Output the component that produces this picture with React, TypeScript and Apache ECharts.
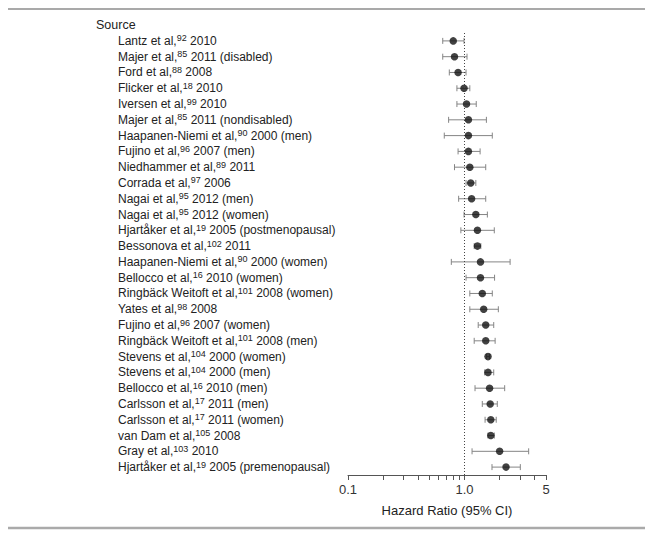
import React, { useEffect, useRef } from "react";
import * as echarts from "echarts";

const authors = [
  "Lantz et al,", "Majer et al,", "Ford et al,", "Flicker et al,", "Iversen et al,",
  "Majer et al,", "Haapanen-Niemi et al,", "Fujino et al,", "Niedhammer et al,", "Corrada et al,",
  "Nagai et al,", "Nagai et al,", "Hjartåker et al,", "Bessonova et al,", "Haapanen-Niemi et al,",
  "Bellocco et al,", "Ringbäck Weitoft et al,", "Yates et al,", "Fujino et al,", "Ringbäck Weitoft et al,",
  "Stevens et al,", "Stevens et al,", "Bellocco et al,", "Carlsson et al,", "Carlsson et al,",
  "van Dam et al,", "Gray et al,", "Hjartåker et al,",
];
const refs = [
  "92", "85", "88", "18", "99", "85", "90", "96", "89", "97",
  "95", "95", "19", "102", "90", "16", "101", "98", "96", "101",
  "104", "104", "16", "17", "17", "105", "103", "19",
];
const tails = [
  "2010", "2011 (disabled)", "2008", "2010", "2010",
  "2011 (nondisabled)", "2000 (men)", "2007 (men)", "2011", "2006",
  "2012 (men)", "2012 (women)", "2005 (postmenopausal)", "2011", "2000 (women)",
  "2010 (women)", "2008 (women)", "2008", "2007 (women)", "2008 (men)",
  "2000 (women)", "2000 (men)", "2010 (men)", "2011 (men)", "2011 (women)",
  "2008", "2010", "2005 (premenopausal)",
];
const hazardRatio = [
  0.80, 0.82, 0.88, 0.99, 1.04, 1.08, 1.08, 1.08, 1.11, 1.13,
  1.15, 1.25, 1.29, 1.29, 1.37, 1.37, 1.42, 1.46, 1.52, 1.52,
  1.59, 1.59, 1.64, 1.66, 1.68, 1.68, 2.00, 2.27,
];
const ciLow = [
  0.65, 0.65, 0.74, 0.86, 0.86, 0.73, 0.67, 0.88, 0.82, 1.03,
  0.89, 0.99, 0.93, 1.21, 0.77, 1.03, 1.11, 1.11, 1.31, 1.21,
  1.54, 1.49, 1.23, 1.42, 1.50, 1.59, 1.16, 1.72,
];
const ciHigh = [
  0.99, 1.05, 1.03, 1.11, 1.26, 1.54, 1.73, 1.36, 1.52, 1.25,
  1.52, 1.57, 1.80, 1.38, 2.46, 1.81, 1.73, 1.95, 1.78, 1.83,
  1.64, 1.78, 2.21, 1.91, 1.87, 1.80, 3.55, 3.01,
];
const tickValues = [0.1, 0.2, 0.3, 0.4, 0.5, 0.6, 0.7, 0.8, 0.9, 1, 2, 3, 4, 5];
const labelValues = [0.1, 1, 5];
const referenceValue = 1;
const xTitle = "Hazard Ratio (95% CI)";
const headerText = "Source";

const FONT = "Liberation Sans";

export default function App() {
  const ref = useRef<HTMLDivElement>(null);
  useEffect(() => {
    if (!ref.current) return;
    const chart = echarts.init(ref.current, undefined, { renderer: "svg" });
    const categories = authors.map((a, i) => `{n|${a}}{s|${refs[i]}}{n| ${tails[i]}}`);
    const option: any = {
      animation: false,
      backgroundColor: "#fff",
      grid: { left: 348, right: 108, top: 33, bottom: 62, containLabel: false },
      xAxis: {
        type: "log",
        logBase: 10,
        min: 0.1,
        max: 5,
        name: xTitle,
        nameLocation: "middle",
        nameGap: 29,
        nameTextStyle: { fontFamily: FONT, fontSize: 13, color: "#222" },
        axisLine: { show: true, lineStyle: { color: "#555", width: 1 } },
        axisTick: { show: true, inside: false, length: 5, customValues: tickValues, lineStyle: { color: "#555" } },
        axisLabel: {
          customValues: labelValues,
          fontFamily: FONT,
          fontSize: 13,
          color: "#333",
          margin: 8,
          formatter: (v: number) => (Math.abs(v - 1) < 1e-9 ? "1.0" : String(v)),
        },
        splitLine: { show: false },
        minorTick: { show: false },
      },
      yAxis: {
        type: "category",
        inverse: true,
        data: categories,
        axisLine: { show: false },
        axisTick: { show: false },
        splitLine: { show: false },
        axisLabel: {
          align: "left",
          margin: 230,
          interval: 0,
          rich: {
            n: { fontFamily: FONT, fontSize: 12, color: "#222", lineHeight: 14 },
            s: { fontFamily: FONT, fontSize: 9, color: "#222", lineHeight: 9, verticalAlign: "top" },
          },
        },
      },
      series: [
        {
          type: "custom",
          renderItem: (params: any, api: any) => {
            const lo = api.coord([api.value(0), api.value(2)]);
            const hi = api.coord([api.value(1), api.value(2)]);
            const h = 3;
            const st = { stroke: "#858585", lineWidth: 1 };
            return {
              type: "group",
              children: [
                { type: "line", shape: { x1: lo[0], y1: lo[1], x2: hi[0], y2: hi[1] }, style: st },
                { type: "line", shape: { x1: lo[0], y1: lo[1] - h, x2: lo[0], y2: lo[1] + h }, style: st },
                { type: "line", shape: { x1: hi[0], y1: hi[1] - h, x2: hi[0], y2: hi[1] + h }, style: st },
              ],
            };
          },
          encode: { x: [0, 1], y: 2 },
          data: ciLow.map((l, i) => [l, ciHigh[i], i]),
          z: 2,
        },
        {
          type: "scatter",
          symbol: "circle",
          symbolSize: 7.5,
          itemStyle: { color: "#111" },
          data: hazardRatio.map((v, i) => [v, i]),
          z: 3,
          markLine: {
            silent: true,
            symbol: "none",
            label: { show: false },
            lineStyle: { type: [1, 2], color: "#444", width: 1 },
            data: [{ xAxis: referenceValue }],
          },
        },
      ],
      graphic: [
        { type: "line", shape: { x1: 8, y1: 9, x2: 645, y2: 9 }, style: { stroke: "#555", lineWidth: 1.2 } },
        { type: "line", shape: { x1: 8, y1: 528, x2: 645, y2: 528 }, style: { stroke: "#aaa", lineWidth: 2.5 } },
        {
          type: "text",
          left: 96,
          top: 18,
          style: { text: headerText, fontFamily: FONT, fontSize: 12.5, fill: "#222" },
        },
      ],
    };
    chart.setOption(option);
    return () => chart.dispose();
  }, []);
  return <div ref={ref} style={{ position: "fixed", left: 0, top: 0, width: 654, height: 537 }} />;
}
